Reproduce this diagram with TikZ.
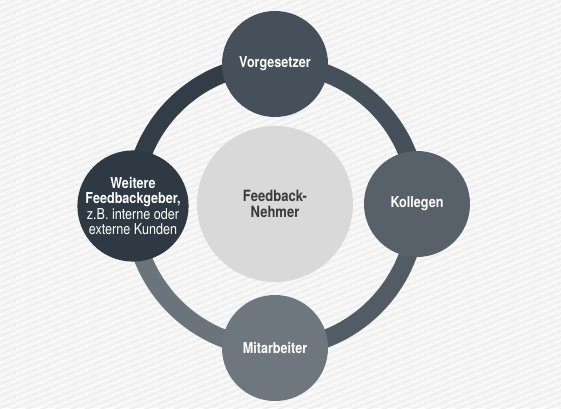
\documentclass[tikz,border=0pt]{standalone}
\usepackage{fontspec}
\setmainfont[FakeStretch=0.84]{TeX Gyre Heros}
\usetikzlibrary{backgrounds}
\definecolor{bgc}{HTML}{F8F8F8}
\definecolor{stripec}{HTML}{EFEFEF}
\definecolor{topc}{HTML}{46505A}
\definecolor{rightc}{HTML}{58616A}
\definecolor{botc}{HTML}{6E767E}
\definecolor{leftc}{HTML}{2E3943}
\definecolor{arcTL}{HTML}{323D47}
\definecolor{arcTR}{HTML}{46505A}
\definecolor{arcBR}{HTML}{535C65}
\definecolor{arcBL}{HTML}{6B737B}
\definecolor{centerc}{HTML}{D9D9D9}
\definecolor{ctext}{HTML}{3A3A3A}
\tikzset{
  ringnode/.style={circle, minimum size=106pt, inner sep=0pt, text=white, align=center,
    font=\fontsize{15}{15.5}\selectfont\bfseries},
  ringarc/.style={line width=18pt, line cap=butt},
}
\begin{document}
\begin{tikzpicture}[x=1pt,y=1pt]
\useasboundingbox (0,0) rectangle (561,408);
\node[circle, fill=centerc, minimum size=156pt, inner sep=0pt, text=ctext, align=center,
  font=\fontsize{15.5}{16}\selectfont\bfseries] (C) at (275,204) {Feedback-\\Nehmer};
\node[ringnode, fill=topc] (T) at (275,344) {Vorgesetzer};
\node[ringnode, fill=rightc] (R) at (417,204) {Kollegen};
\node[ringnode, fill=botc] (B) at (275,60) {Mitarbeiter};
\node[ringnode, fill=leftc, minimum size=102pt] (L) at (133,202)
  {Weitere\\Feedbackgeber,\\\mdseries z.B. interne oder\\\mdseries externe Kunden};
\begin{scope}[on background layer]
  \fill[bgc] (0,0) rectangle (561,408);
  \begin{scope}
    \clip (0,0) rectangle (561,408);
    \foreach \i in {-40,...,70} {
      \draw[stripec, line width=2pt] (0,6*\i) -- (561,6*\i+227);
    }
  \end{scope}
  \draw[ringarc, arcTL] (L.center) to[out=90,in=180] (T.center);
  \draw[ringarc, arcTR] (T.center) to[out=0,in=90] (R.center);
  \draw[ringarc, arcBR] (R.center) to[out=-90,in=0] (B.center);
  \draw[ringarc, arcBL] (B.center) to[out=180,in=-90] (L.center);
\end{scope}
\end{tikzpicture}
\end{document}
